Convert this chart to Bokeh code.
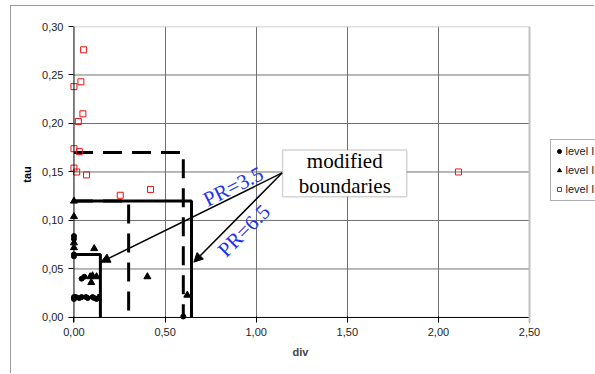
from bokeh.plotting import figure
from bokeh.models import (Range1d, FixedTicker, CustomJSTickFormatter, Legend, LegendItem,
                          Arrow, NormalHead, Label, BoxAnnotation, Span, Title)
from bokeh.embed import file_html
from bokeh.resources import INLINE
import math

# ---- data ----
level1_div = [0.0, 0.0, 0.011, 0.029, 0.042, 0.066, 0.075, 0.102, 0.111, 0.124,
              0.042, 0.057, 0.0, 0.0, 0.0, 0.0, 0.60]
level1_tau = [0.021, 0.019, 0.021, 0.020, 0.021, 0.021, 0.020, 0.021, 0.020, 0.019,
              0.040, 0.042, 0.063, 0.065, 0.081, 0.084, 0.001]

level2_div = [0.0, 0.0, 0.0, 0.0, 0.111, 0.089, 0.102, 0.095, 0.124, 0.133, 0.403, 0.622]
level2_tau = [0.120, 0.104, 0.077, 0.072, 0.071, 0.042, 0.043, 0.036, 0.042, 0.020, 0.042, 0.023]

level3_div = [0.053, 0.038, 0.0, 0.049, 0.024, 0.0, 0.029, 0.0, 0.015, 0.069, 0.254, 0.420, 2.11]
level3_tau = [0.276, 0.243, 0.238, 0.210, 0.202, 0.174, 0.171, 0.154, 0.150, 0.147, 0.126, 0.132, 0.150]

series_names = ["level I", "level II", "level III"]

# modified boundaries (PR=3.5 solid, PR=6.5 dashed)
pr35_small_div = [0.0, 0.145, 0.145]
pr35_small_tau = [0.065, 0.065, 0.0]
pr35_big_div = [0.0, 0.645, 0.645]
pr35_big_tau = [0.12, 0.12, 0.0]
pr65_small_div = [0.0, 0.30, 0.30]
pr65_small_tau = [0.12, 0.12, 0.0]
pr65_big_div = [0.0, 0.60, 0.60]
pr65_big_tau = [0.17, 0.17, 0.0]

x_ticks = [0.0, 0.5, 1.0, 1.5, 2.0, 2.5]
y_ticks = [0.0, 0.05, 0.10, 0.15, 0.20, 0.25, 0.30]
x_grid = [0.5, 1.0, 1.5, 2.0]
y_grid = [0.05, 0.10, 0.15, 0.20, 0.25]
x_min, x_max = 0.0, 2.5
y_min, y_max = 0.0, 0.30

W, H = 584, 368
p = figure(width=W, height=H, output_backend="svg", toolbar_location=None,
           x_range=Range1d(-0.030, 2.862), y_range=Range1d(-0.0052, 0.30),
           min_border_left=57, min_border_right=0, min_border_top=20, min_border_bottom=52)
p.margin = (5, 0, 0, 10)
p.styles = {"border-left": "1px solid #9a9a9a", "border-top": "1px solid #9a9a9a"}
p.background_fill_color = "white"
p.border_fill_color = "white"
p.outline_line_color = None

for ax, ticks in ((p.xaxis[0], x_ticks), (p.yaxis[0], y_ticks)):
    ax.ticker = FixedTicker(ticks=ticks)
    ax.formatter = CustomJSTickFormatter(code="return tick.toFixed(2).replace('.', ',');")
    ax.major_tick_out = 0
    ax.minor_tick_out = 0
    ax.minor_tick_in = 0
    ax.axis_line_color = None
    ax.major_tick_line_color = "black"
    ax.major_label_text_font = "Liberation Sans"
    ax.major_label_text_font_size = "11px"
    ax.major_label_text_color = "#222222"
    ax.axis_label_text_font = "Liberation Sans"
    ax.axis_label_text_font_size = "11px"
    ax.axis_label_text_font_style = "bold"
    ax.axis_label_text_color = "black"

p.xaxis.major_tick_in = 6
p.yaxis.major_tick_in = 5
p.yaxis.axis_label = "tau"
p.xaxis.major_label_standoff = 5
p.yaxis.major_label_standoff = 5
p.yaxis.axis_label_standoff = 6

# x-axis title, centred under the plotted area (0..2.5)
p.add_layout(Title(text="div", align="left", offset=224, text_font="Liberation Sans",
                   text_font_size="11px", text_font_style="bold", standoff=10), "below")

p.xgrid.ticker = FixedTicker(ticks=x_grid)
p.xgrid.grid_line_color = "#707070"
p.ygrid.visible = False
# horizontal grid lines limited to the plotted area
p.segment(x0=[x_min] * len(y_grid), y0=y_grid, x1=[x_max] * len(y_grid), y1=y_grid,
          line_color="#707070", line_width=1)

# plot-area border (top/right light grey) and axis lines (left/bottom black)
p.segment(x0=[x_min], y0=[y_max], x1=[x_max], y1=[y_max], line_color="#c0c0c0", line_width=1.5)
p.add_layout(Span(location=x_max, dimension="height", line_color="#c0c0c0", line_width=2))
p.segment(x0=[-0.03], y0=[y_min], x1=[x_max], y1=[y_min], line_color="black", line_width=1)
p.add_layout(Span(location=x_min, dimension="height", line_color="black", line_width=1))

# boundaries
p.line(pr35_small_div, pr35_small_tau, line_color="black", line_width=3)
p.line(pr35_big_div, pr35_big_tau, line_color="black", line_width=3)
p.line(pr65_small_div, pr65_small_tau, line_color="black", line_width=3, line_dash="19 10")
p.line(pr65_big_div, pr65_big_tau, line_color="black", line_width=3, line_dash="19 10")

r1 = p.scatter(level1_div, level1_tau, marker="circle", size=5, fill_color="black", line_color="black")
r2 = p.scatter(level2_div, level2_tau, marker="triangle", size=7, fill_color="black", line_color="black")
r3 = p.scatter(level3_div, level3_tau, marker="square", size=6, fill_color="white", fill_alpha=0,
               line_color="#ee1111", line_width=1)

# annotation box
p.add_layout(BoxAnnotation(left=1.145, right=1.826, bottom=0.1244, top=0.1726,
                           fill_color="white", fill_alpha=1, line_color="#707070", line_width=1.5))
p.add_layout(Label(x=1.486, y=0.1485, text="modified\nboundaries", text_align="center",
                   text_baseline="middle", text_font="Liberation Serif", text_font_size="21px",
                   text_line_height=1.05, text_color="black"))

p.add_layout(Arrow(x_start=1.142, y_start=0.149, x_end=0.148, y_end=0.057, line_width=1.5,
                   end=NormalHead(size=9, fill_color="black", line_color="black")))
p.add_layout(Arrow(x_start=1.142, y_start=0.149, x_end=0.658, y_end=0.057, line_width=1.5,
                   end=NormalHead(size=9, fill_color="black", line_color="black")))

p.add_layout(Label(x=0.874, y=0.135, text="PR=3.5", text_align="center", text_baseline="middle",
                   angle=math.radians(26.6), text_font="Liberation Serif", text_font_size="21px",
                   text_color="#2233ee"))
p.add_layout(Label(x=0.932, y=0.0894, text="PR=6.5", text_align="center", text_baseline="middle",
                   angle=math.radians(45), text_font="Liberation Serif", text_font_size="21px",
                   text_color="#2233ee"))

legend = Legend(items=[LegendItem(label=series_names[0], renderers=[r1]),
                       LegendItem(label=series_names[1], renderers=[r2]),
                       LegendItem(label=series_names[2], renderers=[r3])],
                location=(481.5, 121), label_text_font="Liberation Sans", label_text_font_size="11px",
                label_text_color="#222222",
                label_height=16, glyph_height=10, glyph_width=10, label_standoff=2,
                padding=3, spacing=3, margin=0, border_line_color="#606060", border_line_width=1.5,
                background_fill_alpha=1)
p.add_layout(legend)

open("out.html", "w").write(file_html(p, INLINE))
